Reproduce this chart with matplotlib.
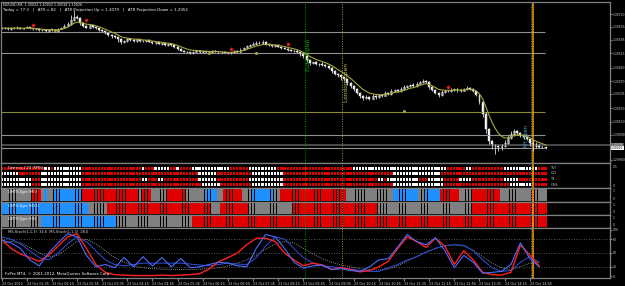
import numpy as np
import pandas as pd
import matplotlib
matplotlib.use('Agg')
import matplotlib.pyplot as plt

W, H = 625, 286

# ---------------- data ----------------
first_open = 1.30648
closes = [
    1.30645, 1.30650, 1.30642, 1.30648, 1.30646, 1.30650, 1.30644, 1.30647, 1.30652, 1.30645,
    1.30640, 1.30643, 1.30636, 1.30638, 1.30632, 1.30640, 1.30636, 1.30630, 1.30642, 1.30648,
    1.30660, 1.30668, 1.30690, 1.30705, 1.30698, 1.30675, 1.30660, 1.30650, 1.30662, 1.30655,
    1.30645, 1.30638, 1.30630, 1.30620, 1.30612, 1.30605, 1.30600, 1.30588, 1.30575, 1.30580,
    1.30590, 1.30585, 1.30580, 1.30588, 1.30582, 1.30578, 1.30584, 1.30575, 1.30570, 1.30572,
    1.30566, 1.30568, 1.30560, 1.30565, 1.30558, 1.30550, 1.30540, 1.30530, 1.30525, 1.30520,
    1.30518, 1.30525, 1.30530, 1.30522, 1.30526, 1.30520, 1.30523, 1.30528, 1.30524, 1.30520,
    1.30522, 1.30518, 1.30515, 1.30520, 1.30528, 1.30525, 1.30535, 1.30545, 1.30552, 1.30560,
    1.30565, 1.30570, 1.30568, 1.30572, 1.30565, 1.30560, 1.30555, 1.30558, 1.30550, 1.30545,
    1.30540, 1.30535, 1.30530, 1.30528, 1.30520, 1.30510, 1.30500, 1.30480, 1.30465, 1.30470,
    1.30458, 1.30462, 1.30455, 1.30450, 1.30440, 1.30425, 1.30410, 1.30400, 1.30390, 1.30380,
    1.30360, 1.30345, 1.30330, 1.30310, 1.30295, 1.30285, 1.30290, 1.30280, 1.30295, 1.30288,
    1.30300, 1.30295, 1.30310, 1.30305, 1.30318, 1.30325, 1.30320, 1.30330, 1.30338, 1.30345,
    1.30350, 1.30345, 1.30358, 1.30365, 1.30372, 1.30368, 1.30340, 1.30325, 1.30310, 1.30300,
    1.30315, 1.30320, 1.30318, 1.30325, 1.30330, 1.30322, 1.30320, 1.30328, 1.30335, 1.30330,
    1.30318, 1.30300, 1.30260, 1.30200, 1.30120, 1.30060, 1.30040, 1.30030, 1.30025, 1.30035,
    1.30050, 1.30075, 1.30095, 1.30110, 1.30100, 1.30090, 1.30080, 1.30070, 1.30050, 1.30030,
    1.30040, 1.30028, 1.30025, 1.30022,
]
# wick lengths in points (1e-5)
wick_up = [
    3, 5, 2, 4, 3, 6, 2, 3, 5, 2, 4, 3, 2, 5, 3, 4, 2, 6, 8, 5,
    6, 10, 25, 36, 12, 8, 5, 4, 6, 3, 4, 3, 5, 2, 4, 3, 6, 8, 10, 6,
    5, 4, 3, 6, 2, 5, 3, 4, 6, 3, 4, 2, 5, 3, 2, 4, 3, 5, 2, 3,
    4, 3, 5, 2, 3, 4, 2, 5, 3, 2, 3, 4, 2, 3, 5, 4, 6, 5, 8, 6,
    10, 12, 8, 14, 6, 5, 3, 4, 5, 3, 4, 3, 5, 2, 3, 4, 6, 8, 5, 4,
    5, 4, 6, 3, 5, 4, 3, 5, 6, 4, 5, 6, 4, 3, 5, 4, 6, 3, 8, 5,
    6, 4, 8, 5, 10, 6, 4, 8, 12, 6, 8, 10, 6, 8, 12, 5, 4, 6, 3, 5,
    8, 6, 4, 10, 5, 4, 6, 5, 8, 4, 5, 3, 4, 6, 8, 5, 6, 4, 8, 10,
    12, 15, 14, 10, 8, 6, 5, 4, 6, 20, 12, 5, 3, 2,
]
wick_dn = [
    3, 2, 4, 3, 5, 2, 3, 4, 2, 5, 3, 5, 4, 3, 6, 3, 5, 4, 3, 2,
    3, 4, 5, 8, 6, 10, 6, 5, 4, 5, 3, 5, 4, 6, 5, 8, 6, 15, 12, 8,
    4, 5, 6, 3, 5, 4, 6, 3, 5, 4, 3, 5, 4, 6, 3, 5, 6, 4, 5, 3,
    5, 4, 3, 6, 4, 3, 5, 4, 3, 5, 4, 3, 5, 4, 3, 5, 2, 4, 3, 4,
    3, 4, 5, 3, 6, 4, 5, 6, 4, 5, 3, 5, 4, 6, 5, 8, 10, 12, 8, 6,
    5, 6, 4, 8, 6, 10, 8, 6, 12, 10, 8, 10, 12, 8, 10, 14, 6, 10, 5, 8,
    5, 6, 4, 6, 5, 4, 6, 5, 4, 5, 3, 5, 4, 3, 5, 6, 10, 8, 6, 10,
    5, 4, 6, 3, 5, 6, 4, 3, 5, 6, 6, 8, 10, 15, 20, 18, 25, 40, 20, 15,
    10, 8, 6, 10, 8, 12, 10, 8, 15, 25, 10, 6, 5, 3,
]

gray_levels = [1.30626, 1.30517, 1.30090, 1.30022]
olive_level = 1.30210
bid_level = 1.30038

red_mark_bars = [10, 27, 73, 91, 142]
red_mark_prices = [1.30663, 1.30689, 1.30538, 1.30564, 1.30340]
olive_mark_bars = [17, 66, 81, 128]
olive_mark_prices = [1.30637, 1.30517, 1.30517, 1.30215]

euro_open_bar = 96.5
london_open_bar = 108.3
ny_open_bar = 168.4
cursor_bar = 169.0

price_ticks = [1.30720, 1.30655, 1.30585, 1.30515, 1.30440, 1.30370,
               1.30305, 1.30230, 1.30160, 1.30090, 1.29960]

genesis_names = ['TVI', 'CCI', 'T3..', 'GHL']
genesis_runs = [
    "R14 W2 R1 W9 R19 W1 R3 W5 R2 W1 R4 W12 R6 W9 R24 W30 R6 W2 R10 W11 R3",
    "W6 R7 W13 R37 W6 R11 W10 R35 W15 R34",
    "W10 R3 W13 R19 W2 R3 W2 R11 W6 R10 W11 R30 W2 R1 W10 R3 W5 R5 W4 R10 W5 R9",
    "W10 R3 W13 R38 W6 R10 W10 R35 W16 R21 W7 R5",
]
gmts_names = ['GMTS-Type (M5)', 'GMTS-Type (M15)', 'GMTS-Type (H1)']
gmts_runs = [
    "G10 R3 G1 B1 G2 B9 R18 G1 R3 G5 R6 G6 B4 G2 R6 G3 B7 G2 R21 G15 B8 G2 B5 R6 G4 R9 G10 R1 G4",
    "B28 G6 R33 G3 R9 G14 R27 G30 R24",
    "G13 B24 G24 R113",
]

osc_bars = list(range(0, 172, 3))
stoch_fast_blue = [78, 72, 60, 35, 22, 50, 72, 92, 85, 45,
                   20, 25, 18, 40, 20, 42, 22, 40, 20, 38,
                   18, 20, 25, 30, 28, 22, 20, 60, 90, 85,
                   60, 30, 17, 22, 24, 14, 16, 12, 10, 20,
                   35, 38, 63, 90, 75, 68, 83, 55, 18, 45,
                   30, 6, 8, 10, 25, 72, 38, 20]
stoch_fast_red = [80, 60, 48, 40, 32, 45, 65, 85, 92, 60,
                  25, 8, 3, 2, 1, 1, 1, 2, 1, 2,
                  3, 5, 15, 31, 40, 50, 68, 82, 82, 75,
                  50, 35, 22, 28, 24, 14, 18, 14, 9, 12,
                  20, 32, 60, 85, 75, 62, 82, 65, 25, 55,
                  35, 8, 3, 2, 8, 67, 46, 22]
stoch_slow_blue = [85, 80, 70, 55, 40, 35, 50, 70, 85, 75,
                   55, 35, 25, 22, 25, 28, 28, 28, 28, 28,
                   26, 24, 22, 25, 28, 26, 25, 40, 65, 85,
                   80, 60, 40, 28, 22, 20, 18, 15, 12, 10,
                   10, 18, 25, 35, 42, 52, 60, 66, 68, 67,
                   55, 35, 18, 10, 12, 30, 42, 30]
stoch_signal = [70, 75, 72, 62, 50, 42, 45, 60, 75, 80,
                70, 55, 40, 30, 22, 18, 16, 15, 14, 14,
                14, 15, 16, 18, 22, 28, 35, 45, 58, 70,
                75, 72, 60, 48, 38, 30, 24, 20, 16, 14,
                13, 15, 22, 32, 42, 52, 60, 66, 68, 65,
                56, 42, 28, 18, 14, 20, 28, 30]

time_labels = ['23 Oct 2012', '23 Oct 01:35', '23 Oct 02:15', '23 Oct 02:55',
               '23 Oct 03:35', '23 Oct 04:15', '23 Oct 04:55', '23 Oct 05:35',
               '23 Oct 06:15', '23 Oct 06:55', '23 Oct 07:35', '23 Oct 08:15',
               '23 Oct 08:55', '23 Oct 09:35', '23 Oct 10:15', '23 Oct 10:55',
               '23 Oct 11:35', '23 Oct 12:15', '23 Oct 12:55', '23 Oct 13:35',
               '23 Oct 14:15', '23 Oct 14:55']

# ---------------- drawing ----------------
N = len(closes)
x = np.arange(N)
c = np.array(closes)
o = np.array([first_open] + closes[:-1])
hi = np.maximum(o, c) + np.array(wick_up) * 1e-5
lo = np.minimum(o, c) - np.array(wick_dn) * 1e-5

colmap = {'R': '#e00000', 'W': '#ffffff', 'B': '#1e90ff', 'G': '#808080'}
txt = '#d0d0d0'
rfs = 2.15  # right scale font size


def expand(runs):
    out = []
    for tok in runs.split():
        out += [tok[0]] * int(tok[1:])
    return [colmap[k] for k in out[:N]]


fig = plt.figure(figsize=(W / 100, H / 100), dpi=100, facecolor='black')


def panel(top, bottom):
    ax = fig.add_axes([1 / W, 1 - bottom / H, 609 / W, (bottom - top) / H])
    ax.set_facecolor('black')
    ax.set_xlim(-0.16, 193.5)
    for s in ax.spines.values():
        s.set_color('#808080')
        s.set_linewidth(0.9)
    ax.tick_params(left=False, bottom=False, labelleft=False, labelbottom=False)
    return ax


def session_lines(ax):
    ax.axvline(euro_open_bar, color='#00a000', ls=(0, (1, 1.5)), lw=0.7)
    ax.axvline(london_open_bar, color='#a0a040', ls=(0, (1, 1.5)), lw=0.7)
    ax.axvline(ny_open_bar, color='#3a8fd0', ls=(0, (1, 1.5)), lw=0.7)
    ax.axvline(cursor_bar, color='#ff9c00', lw=1.1)


# main price panel
ax = panel(2, 163)
ax.set_ylim(1.29944, 1.30783)
ax.hlines(gray_levels, -0.16, 172.7, color='#909090', lw=0.8)
ax.hlines(olive_level, -0.16, 172.7, color='#8a8a30', lw=0.8)
ax.axhline(bid_level, color='#4a4a4a', lw=1.4)
session_lines(ax)
ax.vlines(x, lo, hi, color='#d8d8d8', lw=0.6)
bear = c <= o
ax.bar(x[bear], np.maximum(o - c, 1e-6)[bear], bottom=c[bear], width=0.62,
       color='white', edgecolor='white', lw=0.3)
ax.bar(x[~bear], (c - o)[~bear], bottom=o[~bear], width=0.62,
       color='black', edgecolor='#d8d8d8', lw=0.4)
ema = pd.Series(closes).ewm(span=7).mean()
ax.plot(x, ema, color='#a8a838', lw=0.8)
ax.plot(red_mark_bars, red_mark_prices, 'D', color='#e02020', ms=2.2, mec='none')
ax.plot(olive_mark_bars, olive_mark_prices, 'o', color='#a8a838', ms=2.2, mec='none')
ax.text(euro_open_bar + 0.3, 1.30507, 'Euro Open', rotation=90, color='#00b000',
        fontsize=4.4, ha='left', va='center')
ax.text(london_open_bar + 0.6, 1.30361, 'London Open', rotation=90, color='#c0c050',
        fontsize=4.2, ha='left', va='center')
ax.text(ny_open_bar - 0.6, 1.30085, 'NY Open', rotation=90, color='#40b0e0',
        fontsize=3.6, ha='right', va='center')
ax.yaxis.tick_right()
ax.set_yticks(price_ticks)
ax.set_yticklabels([f'{p:.5f}' for p in price_ticks])
ax.tick_params(axis='y', right=True, labelright=True, length=1.5, color='#808080',
               labelsize=rfs, labelcolor=txt, pad=0.6)
ax.text(1.0015, bid_level, '1.30038', transform=ax.get_yaxis_transform(), fontsize=rfs,
        color='white', va='center', ha='left', clip_on=False,
        bbox=dict(facecolor='#505050', edgecolor='none', pad=0.1))
ax.text(1.0015, 1.30022, '1.30022', transform=ax.get_yaxis_transform(), fontsize=rfs,
        color='black', va='center', ha='left', clip_on=False,
        bbox=dict(facecolor='white', edgecolor='none', pad=0.1))
fig.text(3 / W, 1 - 4.5 / H, 'EURUSD,M5  1.30022 1.30032 1.30018 1.30026',
         fontsize=2.3, color='white', va='center')
fig.text(3 / W, 1 - 10 / H,
         'Today = 77.3   |   ATR = 82   |   ATR Projection Up = 1.3079   |   ATR Projection Down = 1.2953',
         fontsize=2.8, color='white', va='center')

# Genesis panel
ax = panel(163, 188)
ax.set_ylim(188, 163)
session_lines(ax)
rows_y = [168, 173.5, 179, 184.5]
for runs, yy, name in zip(genesis_runs, rows_y, genesis_names):
    ax.bar(x, 3.0, bottom=yy - 1.5, width=0.72, color=expand(runs))
    ax.text(174.5, yy, name, fontsize=2.6, color=txt, va='center')
ax.text(2, 168, 'Genesis 2.21 (EMS)', fontsize=2.6, color='white', va='center')
ax.text(1.004, 0.85, '2.5', transform=ax.transAxes, fontsize=rfs, color=txt, va='center')
ax.text(1.004, 0.08, '0', transform=ax.transAxes, fontsize=rfs, color=txt, va='center')

# GMTS panels
for (top, bottom), runs, name in zip([(188, 202), (202, 215), (215, 228)], gmts_runs, gmts_names):
    ax = panel(top, bottom)
    ax.set_ylim(0, 1)
    ax.bar(x, 0.86, bottom=0.07, width=0.85, color=expand(runs))
    session_lines(ax)
    ax.text(2, 0.72, name, fontsize=2.6, color='white', va='center')
    ax.text(1.004, 0.75, '1', transform=ax.transAxes, fontsize=rfs, color=txt, va='center')
    ax.text(1.004, 0.22, '0', transform=ax.transAxes, fontsize=rfs, color=txt, va='center')

# oscillator panel
ax = panel(228, 278)
ax.set_ylim(-4.3, 104.3)
for lvl in [80, 50, 20]:
    ax.axhline(lvl, color='#707070', ls=(0, (1, 2)), lw=0.6)
session_lines(ax)
ax.plot(osc_bars, stoch_signal, color='#b0b0b0', ls=(0, (1, 1.5)), lw=0.6)
ax.plot(osc_bars, stoch_slow_blue, color='#3050e0', lw=0.7)
ax.plot(osc_bars, stoch_fast_red, color='#ff2020', lw=1.0)
ax.plot(osc_bars, stoch_fast_blue, color='#4a6cff', lw=0.8)
ax.text(2, 96, 'MS-Stoch(1,1,3)  34.6  MS-Stoch(1,1,3)  28.6', fontsize=2.6,
        color=txt, va='center')
ax.text(1, 4, 'FxPro MT4, \u00a9 2001-2012, MetaQuotes Software Corp.', fontsize=2.8,
        color='white', va='center')
ax.yaxis.tick_right()
ax.set_yticks([100, 80, 50, 20, 0])
ax.set_yticklabels(['100', '80', '50', '20', '0'])
ax.tick_params(axis='y', right=True, labelright=True, length=1.5, color='#808080',
               labelsize=rfs, labelcolor=txt, pad=0.6)
ax.set_xticks(list(range(0, 169, 8)))
ax.set_xticklabels(time_labels)
ax.tick_params(axis='x', bottom=True, labelbottom=True, length=2, color='#808080',
               labelsize=2.4, labelcolor=txt, pad=1)
for lbl in ax.get_xticklabels():
    lbl.set_ha('left')

fig.savefig('out.png', dpi=100, facecolor='black')
